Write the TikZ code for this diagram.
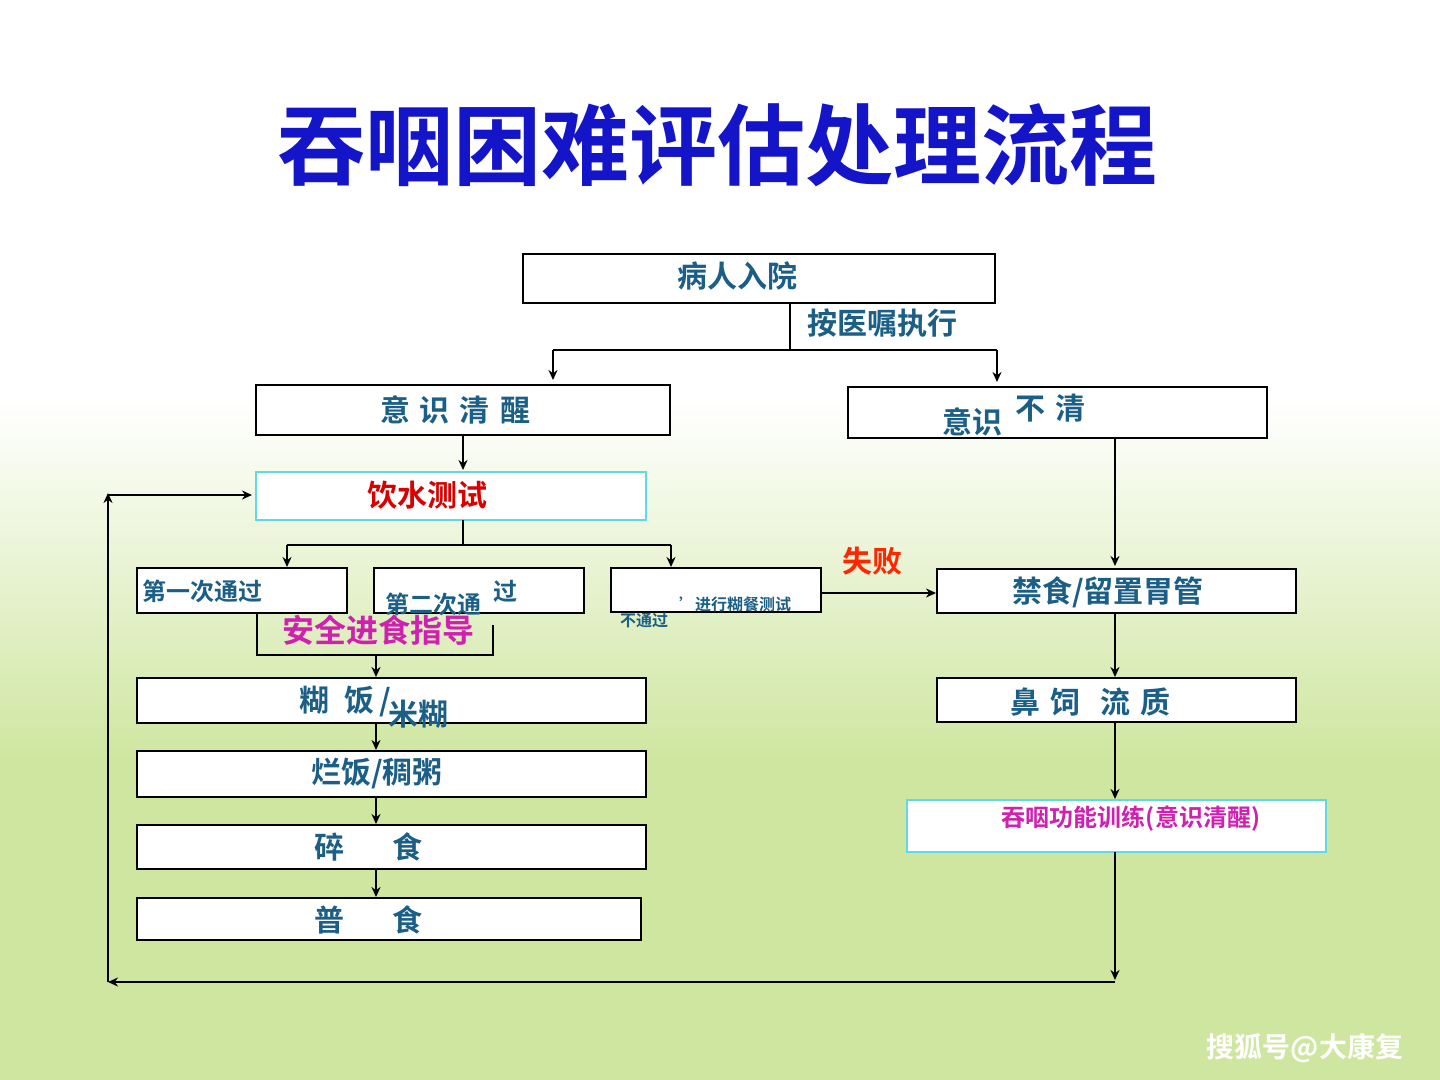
\documentclass[tikz,border=0pt]{standalone}
\usepackage{fontspec}
\setmainfont{Noto Sans CJK SC}
\newfontfamily\cjkb{Noto Sans CJK SC}[BoldFont={Noto Sans CJK SC Bold}]
\usetikzlibrary{arrows.meta}
\definecolor{teal1}{HTML}{1B5E86}
\definecolor{ttl}{HTML}{1414C8}
\definecolor{grn}{HTML}{CFE6A0}
\definecolor{cyanb}{HTML}{5FD8E8}
\definecolor{mag}{HTML}{D020B0}
\begin{document}
\begin{tikzpicture}[x=0.5pt,y=-0.5pt,
 box/.style={draw=black,line width=1.2pt,fill=white},
 cbox/.style={draw=cyanb,line width=1pt,fill=white},
 lbl/.style={text=teal1,font=\cjkb\bfseries\fontsize{15}{15}\selectfont,inner sep=0},
 sm/.style={lbl,font=\cjkb\bfseries\fontsize{12}{12}\selectfont},
 ln/.style={line width=1pt},
 ar/.style={line width=1pt,-{Stealth[length=5pt,width=4.5pt]}}]
\useasboundingbox (0,0) rectangle (1440,1080);
\fill[white] (0,0) rectangle (1440,1080);
\shade[top color=white,bottom color=grn] (0,400) rectangle (1440,760);
\fill[grn] (0,760) rectangle (1440,1080);
\node[text=ttl,font=\cjkb\bfseries\fontsize{44}{44}\selectfont] (title) at (717,145) {吞咽困难评估处理流程};
% boxes
\draw[box] (523,254) rectangle (995,303); \node[lbl] (n1) at (737,276) {病人入院};
\node[lbl] (n1b) at (882,323) {按医嘱执行};
\draw[box] (256,385) rectangle (670,435); \node[lbl] (n2) at (455,410) {意\,\,识\,\,清\,\,醒};
\draw[box] (848,387) rectangle (1267,438); \node[lbl] (n3a) at (972,422) {意识}; \node[lbl] (n3b) at (1050,408) {不\,\,清};
\draw[cbox] (256,472) rectangle (646,520); \node[lbl,text=red!85!black] (n4) at (427,495) {饮水测试};
\draw[box] (137,568) rectangle (347,613); \node[sm,anchor=west] (b1) at (142,591) {第一次通过};
\draw[box] (374,568) rectangle (584,613); \node[sm] (b2a) at (433,604) {第二次通}; \node[sm] (b2b) at (505,591) {过};
\draw[box] (611,568) rectangle (821,612); \node[lbl,font=\cjkb\bfseries\fontsize{8}{8}\selectfont] (b3a) at (735,604) {’进行糊餐测试}; \node[lbl,font=\cjkb\bfseries\fontsize{8}{8}\selectfont] (b3b) at (644,620) {不通过};
\draw[ln] (257,614) -- (257,655) -- (493,655) -- (493,625);
\node[lbl,text=mag,font=\cjkb\bfseries\fontsize{16}{16}\selectfont] (safe) at (378,630) {安全进食指导};
\draw[box] (137,678) rectangle (646,723); \node[lbl] (f1) at (345,701) {糊\,\,\,饭\,/}; \node[lbl] (f1b) at (418,714) {米糊};
\draw[box] (137,751) rectangle (646,797); \node[lbl] (f2) at (377,773) {烂饭/稠粥};
\draw[box] (137,825) rectangle (646,869); \node[lbl] (f3) at (368,847) {碎\hspace{24pt}食};
\draw[box] (137,898) rectangle (641,940); \node[lbl] (f4) at (368,920) {普\hspace{24pt}食};
\node[lbl,text=orange!30!red,font=\cjkb\bfseries\fontsize{15}{15}\selectfont] (fail) at (872,561) {失败};
\draw[box] (937,569) rectangle (1296,613); \node[lbl] (r1) at (1108,592) {禁食/留置胃管};
\draw[box] (937,678) rectangle (1296,722); \node[lbl] (r2) at (1090,702) {鼻\,\,饲\,\,\,\,流\,\,质};
\draw[cbox] (907,800) rectangle (1326,852); \node[lbl,text=mag,font=\cjkb\bfseries\fontsize{12}{12}\selectfont] (r3) at (1131,819) {吞咽功能训练(意识清醒)};
% connectors
\draw[ln] (790,303) -- (790,350);
\draw[ln] (553,350) -- (997,350);
\draw[ar] (553,350) -- (553,380); \draw[ar] (997,350) -- (997,382);
\draw[ar] (463,435) -- (463,470);
\draw[ln] (463,520) -- (463,545); \draw[ln] (287,545) -- (671,545);
\draw[ar] (287,545) -- (287,567); \draw[ar] (671,545) -- (671,567);
\draw[ar] (376,655) -- (376,677);
\draw[ar] (376,723) -- (376,750);
\draw[ar] (376,797) -- (376,824);
\draw[ar] (376,869) -- (376,897);
\draw[ar] (821,593) -- (936,593);
\draw[ar] (1115,438) -- (1115,566);
\draw[ar] (1115,613) -- (1115,677);
\draw[ar] (1115,722) -- (1115,799);
\draw[ar] (1115,852) -- (1115,980);
\draw[ar] (1115,982) -- (108,982);
\draw[ar] (108,982) -- (108,493);
\draw[ar] (108,495) -- (252,495);
\node[text=white,font=\cjkb\bfseries\fontsize{14}{14}\selectfont] (wm) at (1305,1048) {搜狐号@大康复};
\end{tikzpicture}
\end{document}
